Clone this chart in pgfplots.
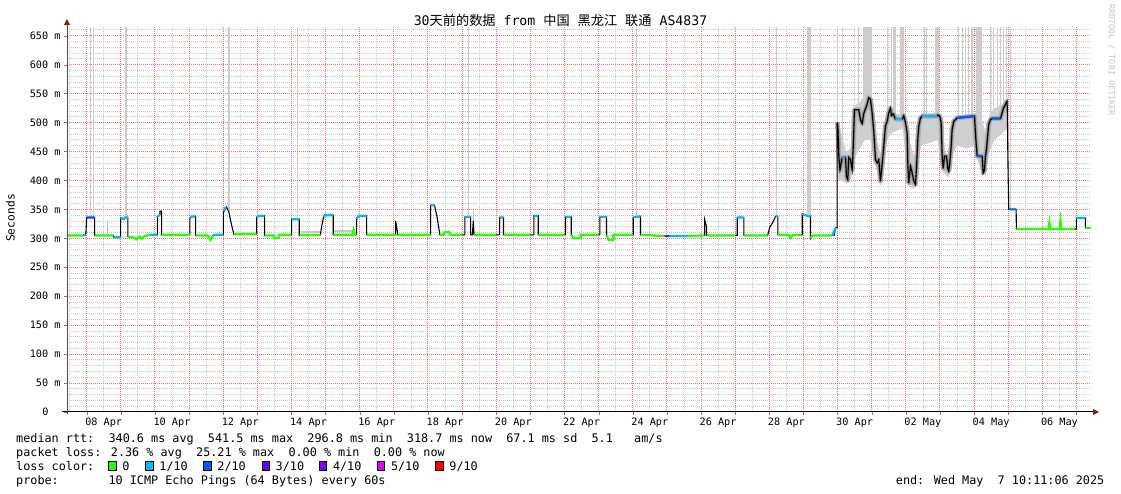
\documentclass[border=0pt]{standalone}
\usepackage{fontspec}
\setmainfont{DejaVu Sans Mono}
\newfontfamily\cjk{Noto Sans CJK SC}
\usepackage{pgfplots}
\pgfplotsset{compat=1.18}

\definecolor{lc0}{RGB}{38,255,0}
\definecolor{lc1}{RGB}{0,184,255}
\definecolor{lc2}{RGB}{0,89,255}
\definecolor{lc3}{RGB}{94,0,255}
\definecolor{lc4}{RGB}{126,0,255}
\definecolor{lc5}{RGB}{221,0,255}
\definecolor{lc9}{RGB}{255,0,0}
\definecolor{mgrid}{RGB}{255,105,105}
\definecolor{mingrid}{RGB}{200,200,200}
\definecolor{spike}{RGB}{204,204,204}
\definecolor{arrowred}{RGB}{128,30,30}

\pgfplotsset{
  rrdframe/.style={
    at={(67pt,82pt)}, anchor=south west,
    scale only axis, width=1024pt, height=385pt,
    xmin=7.4244, xmax=37.4244, ymin=0, ymax=665,
    axis line style={draw=none},
    xtick pos=left, ytick pos=left,
    ticklabel style={font=\fontsize{10.2}{12}\selectfont},
  }
}

\begin{document}
\begin{tikzpicture}
% background axis: grey dotted grid every 12 h / 10 ms, date labels
\begin{axis}[rrdframe,
    xtick={7.5,8.5,...,36.5},
    xticklabels={{},08 Apr,{},10 Apr,{},12 Apr,{},14 Apr,{},16 Apr,{},18 Apr,{},20 Apr,{},22 Apr,{},24 Apr,{},26 Apr,{},28 Apr,{},30 Apr,{},02 May,{},04 May,{},06 May},
    ytick={10,20,...,660}, yticklabels={},
    grid=major,
    major grid style={draw=mingrid, dash pattern=on 1pt off 1pt, line width=0.8pt},
    major tick length=0pt,
    xticklabel style={anchor=base, yshift=-14pt},
]
\end{axis}

% main axis: red grid every day / 50 ms, and the data
\begin{axis}[rrdframe,
    unbounded coords=jump,
    xtick={8,...,37}, xticklabels={},
    ytick={0,50,...,650},
    yticklabels={0\hspace*{12pt},50 m,100 m,150 m,200 m,250 m,300 m,350 m,400 m,450 m,500 m,550 m,600 m,650 m},
    grid=major,
    major grid style={draw=mgrid, dash pattern=on 1pt off 1pt, line width=1pt},
    tick align=outside, major tick length=3pt,
    yticklabel style={anchor=east},
]

% full height smoke spikes
\addplot[spike, line width=1.2pt] coordinates {
(8.117,336) (8.117,665) (8.117,nan)
(8.196,336) (8.196,665) (8.196,nan)
(9.151,336) (9.151,665) (9.151,nan)
(14.189,333) (14.189,665) (14.189,nan)
(19.19,337) (19.19,665) (19.19,nan)
(24.11,338) (24.11,665) (24.11,nan)
(28.21,338) (28.21,665) (28.21,nan)
(30.0,500) (30.0,665) (30.0,nan)
(30.135,440) (30.135,665) (30.135,nan)
(30.621,522) (30.621,665) (30.621,nan)
(30.75,510) (30.75,665) (30.75,nan)
(31.47,505) (31.47,665) (31.47,nan)
(31.57,520) (31.57,665) (31.57,nan)
(31.63,515) (31.63,665) (31.63,nan)
(31.68,506) (31.68,665) (31.68,nan)
(32.55,511) (32.55,665) (32.55,nan)
(32.60,511) (32.60,665) (32.60,nan)
(33.55,508) (33.55,665) (33.55,nan)
(33.65,508) (33.65,665) (33.65,nan)
(33.75,508) (33.75,665) (33.75,nan)
(33.84,508) (33.84,665) (33.84,nan)
(33.94,508) (33.94,665) (33.94,nan)
(34.48,505) (34.48,665) (34.48,nan)
(34.58,507) (34.58,665) (34.58,nan)
(34.68,507) (34.68,665) (34.68,nan)
(34.77,507) (34.77,665) (34.77,nan)
(34.85,526) (34.85,665) (34.85,nan)
(34.95,531) (34.95,665) (34.95,nan)
(35.06,350) (35.06,665)
};
\addplot[spike!80!gray, line width=1pt] coordinates {
(8.615,305) (8.615,330) (8.615,nan)
(19.34,330) (19.34,347)
};
\addplot[spike, line width=2.2pt] coordinates {(12.18,345) (12.18,665)};
\addplot[spike, line width=3.4pt] coordinates {(29.16,338) (29.16,665)};
\addplot[spike, line width=7.7pt] coordinates {(30.90,540) (30.90,665)};
\addplot[spike, line width=4pt] coordinates {(31.90,506) (31.90,665)};
\addplot[spike, line width=4.3pt] coordinates {(32.905,511) (32.905,665)};
\addplot[spike, line width=6.7pt] coordinates {(34.14,442) (34.14,665)};

% light smoke around the baseline
\addplot[gray!45, line width=2pt] coordinates {
(14.27,311) (14.86,311) (14.86,nan)
(15.25,313) (15.78,313)
};

% light smoke band in the high period
\addplot[fill=gray!38, draw=none] coordinates {
(29.99,505) (30.10,480) (30.25,450) (30.40,455) (30.50,530) (30.65,535)
(30.80,545) (30.95,548) (31.05,530) (31.15,470) (31.26,445) (31.35,480)
(31.45,515) (31.55,530) (31.70,515) (31.90,515) (32.00,510) (32.10,470)
(32.25,440) (32.35,490) (32.45,515) (32.70,515) (32.93,518) (33.03,505)
(33.15,450) (33.26,440) (33.35,495) (33.50,512) (33.80,512) (34.00,515)
(34.10,520) (34.25,500) (34.35,480) (34.45,515) (34.60,525) (34.80,530)
(34.97,545) (35.00,520) (35.02,360)
(35.02,340) (35.00,400) (34.97,490) (34.80,480) (34.60,470) (34.45,450)
(34.35,415) (34.25,410) (34.10,435) (34.00,460) (33.80,455) (33.50,460)
(33.35,440) (33.26,405) (33.15,410) (33.03,420) (32.93,470) (32.70,465)
(32.45,460) (32.35,420) (32.25,385) (32.10,390) (32.00,440) (31.90,490)
(31.70,485) (31.55,480) (31.45,470) (31.35,420) (31.26,390) (31.15,415)
(31.05,440) (30.95,470) (30.80,470) (30.65,455) (30.50,440) (30.40,405)
(30.25,395) (30.10,400) (29.99,400)
} -- cycle;

% darker smoke close to the median in the high period
\addplot[gray!62, line width=5pt, line join=round] coordinates {
(29.989,500) (30.012,488) (30.036,442) (30.071,418) (30.135,439) (30.182,440)
(30.232,440) (30.261,407) (30.299,401) (30.328,440) (30.378,436) (30.428,418)
(30.457,453) (30.495,522) (30.621,522) (30.671,505) (30.721,498) (30.768,516)
(30.847,528) (30.915,543) (30.964,540) (31.014,516) (31.061,485) (31.111,436)
(31.161,430) (31.207,436) (31.257,399) (31.307,428) (31.354,459) (31.403,494)
(31.453,502) (31.5,517) (31.55,525) (31.579,512) (31.629,515) (31.696,506)
(31.893,506) (31.939,512) (31.989,500) (32.039,482) (32.057,430) (32.086,396)
(32.136,425) (32.185,413) (32.232,399) (32.282,393) (32.311,420) (32.35,471)
(32.379,494) (32.429,508) (32.478,511) (32.918,511) (32.935,513) (32.994,511)
(33.035,500) (33.064,442) (33.094,421) (33.132,442) (33.191,442) (33.229,421)
(33.258,416) (33.287,430) (33.328,459) (33.357,488) (33.404,502) (33.454,505)
(33.504,508) (34.011,511) (34.049,473) (34.09,442) (34.236,442) (34.266,413)
(34.304,418) (34.333,442) (34.362,453) (34.429,497) (34.479,505) (34.529,507)
(34.772,507) (34.822,517) (34.869,526) (34.918,531) (34.968,537)
};
\addplot[black!50, line width=2.4pt, line join=round] coordinates {
(29.989,500) (30.012,488) (30.036,442) (30.071,418) (30.135,439) (30.182,440)
(30.232,440) (30.261,407) (30.299,401) (30.328,440) (30.378,436) (30.428,418)
(30.457,453) (30.495,522) (30.621,522) (30.671,505) (30.721,498) (30.768,516)
(30.847,528) (30.915,543) (30.964,540) (31.014,516) (31.061,485) (31.111,436)
(31.161,430) (31.207,436) (31.257,399) (31.307,428) (31.354,459) (31.403,494)
(31.453,502) (31.5,517) (31.55,525) (31.579,512) (31.629,515) (31.696,506)
(31.893,506) (31.939,512) (31.989,500) (32.039,482) (32.057,430) (32.086,396)
(32.136,425) (32.185,413) (32.232,399) (32.282,393) (32.311,420) (32.35,471)
(32.379,494) (32.429,508) (32.478,511) (32.918,511) (32.935,513) (32.994,511)
(33.035,500) (33.064,442) (33.094,421) (33.132,442) (33.191,442) (33.229,421)
(33.258,416) (33.287,430) (33.328,459) (33.357,488) (33.404,502) (33.454,505)
(33.504,508) (34.011,511) (34.049,473) (34.09,442) (34.236,442) (34.266,413)
(34.304,418) (34.333,442) (34.362,453) (34.429,497) (34.479,505) (34.529,507)
(34.772,507) (34.822,517) (34.869,526) (34.918,531) (34.968,537)
};

% median rtt
\addplot[black, line width=1.1pt] coordinates {
(7.4244,305) (7.95,305) (7.98,310) (8.00,336) (8.234,336) (8.234,305) (8.79,305)
(8.79,302) (8.996,302) (8.996,335) (9.09,333) (9.12,336) (9.21,336) (9.21,303)
(9.40,301) (9.45,298) (9.55,303) (9.62,299) (9.70,304) (9.875,306) (10.071,306)
(10.071,338) (10.147,340) (10.15,347) (10.197,347) (10.197,306) (11.026,306)
(11.026,334) (11.06,338) (11.193,338) (11.193,305) (11.55,305) (11.632,297)
(11.72,306) (12.004,306) (12.004,345) (12.101,354) (12.168,345) (12.238,325)
(12.315,307) (12.98,307) (12.98,336) (13.05,339) (13.214,339) (13.214,305)
(13.478,305) (13.478,300) (13.624,300) (13.624,306) (14.005,306) (14.005,333)
(14.23,333) (14.23,305) (14.85,306) (14.883,320) (14.942,337) (14.97,340)
(15.226,340) (15.226,306) (15.78,306) (15.821,314) (15.85,306) (15.909,306)
(15.909,333) (15.97,339) (16.201,339) (16.201,306) (17.051,306) (17.051,330)
(17.11,310) (17.11,306) (18.076,306) (18.076,357) (18.193,357) (18.272,335)
(18.349,306) (18.457,306) (18.5,311) (18.62,311) (18.662,306) (19.081,306)
(19.081,337) (19.248,337) (19.248,306) (19.30,306) (19.327,330) (19.35,306)
(20.097,306) (20.097,336) (20.214,336) (20.214,306) (21.102,306) (21.102,339)
(21.231,339) (21.231,306) (22.03,306) (22.03,337) (22.197,337) (22.197,306)
(22.265,300) (22.47,300) (22.47,306) (23.035,306) (23.035,337) (23.231,337)
(23.231,306) (23.29,297) (23.436,297) (23.436,306) (24.013,306) (24.013,336)
(24.227,338) (24.227,306) (24.96,304) (25.5,304) (26.103,305) (26.103,333)
(26.161,320) (26.161,305) (27.06,305) (27.06,336) (27.253,336) (27.253,305)
(27.95,305) (28.006,318) (28.124,330) (28.182,338) (28.249,338) (28.249,306)
(28.55,306) (28.621,300) (28.7,306) (28.964,306) (28.964,342) (29.148,338)
(29.207,338) (29.207,300) (29.265,305) (29.90,305) (29.939,318) (29.989,318)
(29.989,500) (30.012,488) (30.036,442) (30.071,418) (30.135,439) (30.182,440)
(30.232,440) (30.261,407) (30.299,401) (30.328,440) (30.378,436) (30.428,418)
(30.457,453) (30.495,522) (30.621,522) (30.671,505) (30.721,498) (30.768,516)
(30.847,528) (30.915,543) (30.964,540) (31.014,516) (31.061,485) (31.111,436)
(31.161,430) (31.207,436) (31.257,399) (31.307,428) (31.354,459) (31.403,494)
(31.453,502) (31.5,517) (31.55,525) (31.579,512) (31.629,515) (31.696,506)
(31.893,506) (31.939,512) (31.989,500) (32.039,482) (32.057,430) (32.086,396)
(32.136,425) (32.185,413) (32.232,399) (32.282,393) (32.311,420) (32.35,471)
(32.379,494) (32.429,508) (32.478,511) (32.918,511) (32.935,513) (32.994,511)
(33.035,500) (33.064,442) (33.094,421) (33.132,442) (33.191,442) (33.229,421)
(33.258,416) (33.287,430) (33.328,459) (33.357,488) (33.404,502) (33.454,505)
(33.504,508) (34.011,511) (34.049,473) (34.09,442) (34.236,442) (34.266,413)
(34.304,418) (34.333,442) (34.362,453) (34.429,497) (34.479,505) (34.529,507)
(34.772,507) (34.822,517) (34.869,526) (34.918,531) (34.968,537) (34.997,410)
(35.015,350) (35.231,350) (35.24,316) (36.18,316) (36.207,327) (36.23,316)
(36.50,316) (36.529,330) (36.55,316) (36.998,316) (36.998,335) (37.262,335)
(37.262,318) (37.4244,318)
};

% loss colour 0/10
\addplot[lc0, line width=2.2pt] coordinates {
(7.4244,305) (7.90,305) (7.90,nan)
(8.234,305) (8.79,305) (8.79,nan)
(9.21,303) (9.40,301) (9.45,298) (9.55,303) (9.62,299) (9.70,304) (9.85,306) (9.85,nan)
(10.197,306) (11.026,306) (11.026,nan)
(11.193,305) (11.55,305) (11.632,297) (11.72,306) (11.72,nan)
(12.315,307) (12.98,307) (12.98,nan)
(13.214,305) (13.478,305) (13.478,300) (13.624,300) (13.624,306) (14.0,306) (14.0,nan)
(14.23,305) (14.85,306) (14.85,nan)
(15.226,306) (15.78,306) (15.821,314) (15.85,306) (15.909,306) (15.909,nan)
(16.201,306) (17.051,306) (17.051,nan)
(17.11,306) (18.076,306) (18.076,nan)
(18.349,306) (18.457,306) (18.5,311) (18.62,311) (18.662,306) (19.0,306) (19.0,nan)
(19.35,306) (20.0,306) (20.0,nan)
(20.214,306) (21.0,306) (21.0,nan)
(21.231,306) (22.0,306) (22.0,nan)
(22.197,306) (22.265,300) (22.47,300) (22.47,306) (23.0,306) (23.0,nan)
(23.231,306) (23.29,297) (23.436,297) (23.436,306) (24.0,306) (24.0,nan)
(24.227,306) (24.9,304) (24.9,nan)
(25.6,304) (26.1,305) (26.1,nan)
(26.161,305) (27.0,305) (27.0,nan)
(27.253,305) (27.95,305) (27.95,nan)
(28.249,306) (28.55,306) (28.621,300) (28.7,306) (28.95,306) (28.95,nan)
(29.207,300) (29.265,305) (29.85,305) (29.85,nan)
(35.24,316) (36.18,316) (36.207,327) (36.23,316) (36.5,316) (36.529,330) (36.55,316) (36.95,316) (36.95,nan)
(37.262,318) (37.4244,318)
};
% loss colour 1/10
\addplot[lc1, line width=2.2pt] coordinates {
(7.90,305) (7.98,306) (7.98,nan)
(8.79,302) (8.996,302) (8.996,nan)
(8.996,335) (9.09,333) (9.12,336) (9.21,336) (9.21,nan)
(9.85,306) (10.071,306) (10.071,nan)
(10.071,338) (10.147,340) (10.147,nan)
(11.026,337) (11.193,338) (11.193,nan)
(11.72,306) (12.004,306) (12.004,nan)
(12.004,348) (12.08,354) (12.08,nan)
(12.98,336) (13.05,339) (13.214,339) (13.214,nan)
(14.005,333) (14.23,333) (14.23,nan)
(14.942,337) (14.97,340) (15.226,340) (15.226,nan)
(15.909,333) (15.97,339) (16.201,339) (16.201,nan)
(18.076,357) (18.193,357) (18.193,nan)
(19.081,337) (19.248,337) (19.248,nan)
(20.097,336) (20.214,336) (20.214,nan)
(21.102,339) (21.231,339) (21.231,nan)
(22.03,337) (22.197,337) (22.197,nan)
(23.035,337) (23.231,337) (23.231,nan)
(24.013,336) (24.227,338) (24.227,nan)
(25.05,304) (25.6,304) (25.6,nan)
(27.06,336) (27.253,336) (27.253,nan)
(28.182,338) (28.249,338) (28.249,nan)
(28.964,342) (29.148,338) (29.207,338) (29.207,nan)
(29.85,305) (29.939,318) (29.939,nan)
(30.135,439) (30.232,440) (30.232,nan)
(31.696,506) (31.893,506) (31.893,nan)
(32.478,511) (32.918,511) (32.918,nan)
(36.998,335) (37.262,335)
};
% loss colour 2/10
\addplot[lc2, line width=2.2pt] coordinates {
(8.0,336) (8.234,336) (8.234,nan)
(33.504,508) (34.011,511) (34.011,nan)
(34.09,442) (34.236,442) (34.236,nan)
(34.529,507) (34.772,507) (34.772,nan)
(35.015,350) (35.231,350)
};
% loss colour 3/10
\addplot[lc3, line width=2.2pt] coordinates {(24.96,304) (25.05,304)};
\end{axis}

\begin{scope}[x=1pt, y=1pt]
\path[use as bounding box] (0,0) rectangle (1121,494);
% axis lines with arrow heads
\draw[black, line width=1pt] (62,82) -- (1093,82);
\fill[arrowred] (1093,79) -- (1099,82) -- (1093,85) -- cycle;
\draw[black!70, line width=1pt] (67,80) -- (67,469);
\fill[arrowred] (64,469) -- (67,475) -- (70,469) -- cycle;

\node[anchor=base, inner sep=0pt, font=\fontsize{13.2}{15}\selectfont] at (560.5,468.6)
  {30{\cjk 天前的数据} from {\cjk 中国} {\cjk 黑龙江} {\cjk 联通} AS4837};
\node[rotate=90, inner sep=0pt, font=\fontsize{11.3}{13}\selectfont] at (10.5,276) {Seconds};
\node[rotate=-90, inner sep=0pt, text=gray!45, font=\fontsize{8.4}{10}\selectfont] at (1111.5,434) {RRDTOOL / TOBI OETIKER};

\begin{scope}[every node/.style={anchor=base west, inner sep=0pt, font=\fontsize{11.8}{14}\selectfont}]
\node at (16,51.7) {median rtt:\ \ 340.6 ms avg\ \ 541.5 ms max\ \ 296.8 ms min\ \ 318.7 ms now\ \ 67.1 ms sd\ \ 5.1\ \ \ am/s};
\node at (16,37.7) {packet loss: 2.36 \% avg\ \ 25.21 \% max\ \ 0.00 \% min\ \ 0.00 \% now};
\node at (16,23.7) {loss color:};
\node at (16,9.7) {probe:\ \ \ \ \ \ \ 10 ICMP Echo Pings (64 Bytes) every 60s};
\node[anchor=base east] at (1104.5,9.7) {end: Wed May\ \ 7 10:11:06 2025};
\foreach \bx/\col/\lab in {108.7/lc0/0, 145.7/lc1/1\slash 10, 203.7/lc2/2\slash 10, 262/lc3/3\slash 10,
    319.3/lc4/4\slash 10, 377.3/lc5/5\slash 10, 435.7/lc9/9\slash 10} {
  \filldraw[fill=\col, draw=black, line width=0.8pt] (\bx,24) rectangle ++(7.5,8.6);
  \node at (\bx+13.5,23.7) {\lab};
}
\end{scope}
\end{scope}
\end{tikzpicture}
\end{document}
